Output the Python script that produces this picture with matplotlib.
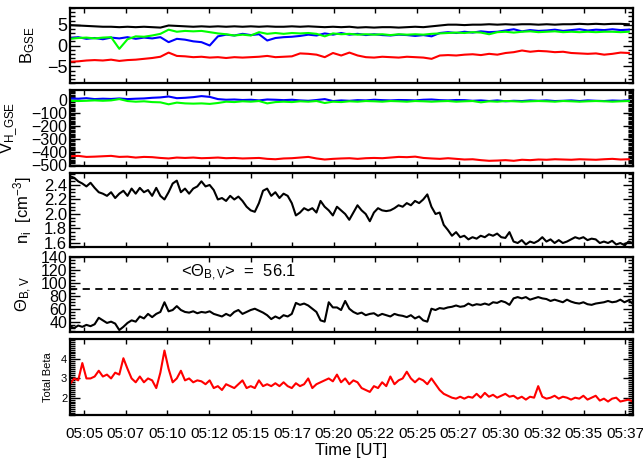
import matplotlib
matplotlib.use('Agg')
import matplotlib.pyplot as plt
from matplotlib.ticker import FixedLocator, MultipleLocator, FuncFormatter
import numpy as np

plt.rcParams['font.family'] = ['Liberation Sans', 'DejaVu Sans']
plt.rcParams['mathtext.fontset'] = 'custom'
plt.rcParams['mathtext.rm'] = 'Liberation Sans'
plt.rcParams['mathtext.it'] = 'Liberation Sans:italic'

# Time axis: minutes after 05:00 UT
T_START = 4.15
T_END = 37.97
x_ticks = [5.0 + 2.5 * k for k in range(14)]

# Magnetic field B_GSE [nT] (x red, y blue, z green, |B| black)
b_tot = [4.9, 4.8, 4.7, 4.6, 4.5, 4.5, 4.4, 4.5, 4.4, 4.5, 4.4, 4.3, 4.8, 4.7, 4.6, 4.5, 4.6, 4.5, 4.6, 4.5,
         4.6, 4.5, 4.6, 4.5, 4.6, 4.5, 4.5, 4.6, 4.5, 4.6, 4.5, 4.4, 4.5, 4.4, 4.5, 4.3, 4.4, 4.3, 4.4, 4.4,
         4.3, 4.4, 4.5, 4.4, 4.6, 4.8, 5.0, 5.0, 4.9, 5.0, 5.0, 5.1, 5.0, 5.1, 5.0, 5.1, 5.1, 5.0, 5.1, 5.0,
         5.1, 5.1, 5.2, 5.1, 5.2, 5.1, 5.2, 5.2, 5.1]
b_x = [-3.9, -3.8, -3.6, -3.5, -3.6, -3.4, -3.7, -3.5, -3.4, -3.2, -3.0, -2.7, -1.7, -2.5, -2.6, -2.8, -2.7, -2.9,
       -2.8, -3.0, -2.8, -2.9, -2.8, -2.7, -2.5, -2.8, -2.7, -2.6, -1.9, -2.0, -2.2, -2.8, -1.8, -2.4, -1.7, -2.4,
       -2.8, -2.9, -2.7, -2.8, -2.9, -2.7, -2.8, -2.9, -3.2, -2.4, -2.3, -2.4, -2.2, -2.1, -2.3, -2.0, -2.2, -1.8,
       -1.6, -1.2, -1.5, -1.3, -1.4, -1.6, -1.5, -1.8, -1.9, -2.0, -1.9, -2.2, -2.0, -1.7, -1.8]
b_y = [1.8, 2.0, 1.6, 1.8, 1.5, 1.9, 1.7, 2.0, 1.6, 1.9, 1.7, 2.0, 0.8, 1.6, 1.4, 1.0, 0.8, 0.0, 2.2, 2.6,
       2.4, 2.8, 2.5, 2.7, 1.2, 1.8, 2.0, 2.1, 2.3, 2.6, 2.4, 2.9, 2.6, 3.0, 2.6, 2.8, 2.5, 2.7, 2.5, 2.4,
       2.6, 2.5, 2.3, 2.5, 2.2, 3.0, 3.2, 3.0, 3.3, 3.1, 3.4, 3.2, 3.3, 3.6, 3.9, 3.4, 3.7, 3.5, 3.6, 3.8,
       3.5, 3.7, 3.9, 3.6, 3.8, 3.7, 3.9, 3.7, 3.8]
b_z = [1.6, 1.8, 1.9, 1.7, 1.9, 2.0, -0.8, 1.5, 2.2, 2.1, 2.4, 2.8, 3.8, 3.3, 3.5, 3.4, 3.5, 3.2, 2.9, 2.7,
       2.4, 2.6, 2.4, 3.2, 2.8, 3.0, 2.8, 3.0, 2.9, 3.0, 2.8, 2.2, 2.9, 2.7, 2.8, 2.6, 2.7, 2.6, 2.7, 2.5,
       2.7, 2.6, 2.7, 2.6, 2.8, 2.9, 3.0, 3.1, 3.0, 3.2, 3.1, 2.7, 3.2, 3.3, 3.1, 3.3, 3.4, 3.2, 3.3, 3.4,
       3.2, 3.3, 3.2, 3.3, 3.2, 3.3, 3.3, 3.2, 3.3]

# Ion velocity V_H,GSE [km/s]
v_x = [-435, -432, -440, -438, -435, -432, -440, -438, -445, -440, -442, -448, -452, -445, -448, -445, -450, -448,
       -445, -450, -448, -452, -450, -448, -455, -458, -452, -450, -445, -440, -452, -460, -455, -452, -450, -455,
       -450, -448, -450, -445, -440, -442, -438, -448, -452, -455, -450, -455, -460, -458, -465, -470, -468, -465,
       -470, -462, -465, -460, -462, -458, -460, -462, -458, -460, -462, -458, -455, -460, -458]
v_y = [10, 8, 12, 5, 8, 6, 10, 5, 8, 10, 15, 18, 25, 12, 15, 20, 28, 22, 5, 0,
       2, -2, 0, -5, 2, 0, -3, 0, -5, -8, -2, 5, -10, -5, -8, -3, -5, 0, -3, -5,
       -2, -3, -5, 0, 2, -3, -5, -2, -3, -8, -5, -10, -5, -12, -8, -10, -5, -8, -5, -10,
       -8, -5, -10, -5, -8, -10, -6, -8, -5]
v_z = [-8, -10, -8, -5, -8, -5, 5, -10, -15, -12, -18, -20, -35, -22, -28, -30, -28, -32, -25, -15,
       -18, -12, -15, -10, -28, -18, -15, -18, -12, -15, -10, -25, -15, -18, -12, -15, -10, -12, -15, -10,
       -12, -15, -10, -12, -15, -12, -10, -15, -12, -10, -20, -12, -15, -10, -12, -15, -12, -10, -12, -15,
       -10, -12, -15, -12, -10, -12, -15, -12, -10]

# Ion density n_i [cm^-3]
n_i = [2.52, 2.50, 2.45, 2.42, 2.38, 2.43, 2.36, 2.30, 2.28, 2.25, 2.30, 2.22, 2.28, 2.32, 2.25, 2.35, 2.28, 2.36,
       2.30, 2.33, 2.25, 2.36, 2.25, 2.20, 2.30, 2.42, 2.46, 2.30, 2.35, 2.28, 2.35, 2.38, 2.45, 2.38, 2.40, 2.33,
       2.20, 2.22, 2.18, 2.25, 2.20, 2.24, 2.18, 2.10, 2.05, 2.03, 2.15, 2.32, 2.35, 2.25, 2.30, 2.22, 2.28, 2.25,
       2.15, 1.98, 2.02, 2.08, 2.05, 2.08, 2.02, 2.18, 2.10, 2.05, 1.98, 2.10, 2.05, 2.00, 1.92, 2.02, 2.12, 2.05,
       2.00, 1.90, 2.02, 2.08, 2.05, 2.04, 2.05, 2.08, 2.12, 2.10, 2.15, 2.12, 2.18, 2.15, 2.20, 2.27, 2.10, 2.00,
       2.02, 1.85, 1.78, 1.70, 1.75, 1.68, 1.70, 1.65, 1.68, 1.66, 1.70, 1.68, 1.72, 1.70, 1.73, 1.68, 1.67, 1.75,
       1.62, 1.60, 1.64, 1.58, 1.62, 1.60, 1.63, 1.68, 1.62, 1.65, 1.60, 1.64, 1.60, 1.62, 1.65, 1.68, 1.66, 1.68,
       1.64, 1.66, 1.65, 1.60, 1.62, 1.60, 1.63, 1.58, 1.60, 1.57, 1.62, 1.60]

# Angle between B and V [deg]
theta_bv = [33, 30, 34, 32, 35, 33, 36, 46, 42, 38, 40, 37, 27, 32, 38, 42, 40, 48, 45, 52,
            47, 52, 55, 70, 56, 58, 64, 58, 55, 54, 56, 53, 55, 54, 56, 52, 50, 48, 52, 49,
            55, 58, 52, 55, 58, 60, 57, 54, 50, 44, 48, 45, 50, 48, 52, 69, 66, 68, 65, 60,
            55, 42, 40, 70, 62, 62, 58, 72, 60, 55, 52, 54, 50, 52, 53, 49, 52, 50, 48, 52,
            50, 49, 47, 50, 45, 48, 42, 40, 60, 58, 61, 60, 62, 63, 65, 63, 64, 68, 65, 67,
            66, 68, 66, 70, 69, 72, 70, 66, 76, 78, 76, 78, 74, 76, 78, 76, 75, 72, 74, 72,
            70, 74, 71, 69, 68, 70, 67, 66, 68, 69, 70, 72, 70, 71, 74, 70, 73, 68]
theta_mean = 56.1

# Total plasma beta
beta_tot = [2.7, 3.0, 2.9, 3.8, 3.0, 3.0, 3.1, 3.4, 3.1, 3.2, 3.0, 3.3, 3.2, 4.05, 3.5, 3.0, 2.8, 3.1, 2.8, 3.0,
            2.9, 2.5, 3.3, 4.45, 3.5, 2.8, 3.0, 3.4, 2.9, 3.0, 2.8, 2.9, 2.85, 2.7, 2.9, 2.5, 2.6, 2.4, 2.7, 2.6,
            2.5, 2.7, 2.9, 2.5, 2.6, 2.5, 2.9, 2.6, 2.7, 2.6, 2.75, 2.6, 2.8, 2.6, 2.5, 2.75, 2.6, 2.7, 3.0, 2.5,
            2.7, 2.8, 2.9, 3.0, 2.85, 3.2, 2.8, 3.0, 2.7, 2.9, 2.8, 2.5, 2.4, 2.3, 2.6, 2.5, 2.8, 2.6, 3.1, 2.7,
            2.9, 3.0, 3.35, 3.0, 2.8, 3.0, 2.9, 2.7, 3.0, 2.7, 2.4, 2.2, 2.1, 2.0, 1.95, 2.05, 1.95, 2.05, 2.0, 2.2,
            2.0, 2.25, 2.05, 2.15, 2.0, 2.1, 2.2, 2.05, 2.1, 1.95, 2.05, 1.9, 2.05, 2.0, 2.6, 2.05, 1.95, 2.0, 2.1,
            1.95, 2.05, 2.0, 1.9, 2.0, 1.95, 2.1, 1.9, 2.0, 2.1, 1.85, 1.95, 1.8, 1.95, 2.0, 1.8, 1.85, 1.9, 1.8]


def time_axis(values, t_end):
    return np.linspace(T_START, t_end, len(values))


def setup_panel(ax, ylim, yticks, yminor, ylabel, label_x, label_size=12, tick_size=12, show_x=False):
    """Configure one IDL-like panel: box, inward ticks on all sides."""
    ax.set_xlim(T_START, T_END)
    ax.set_ylim(ylim)
    ax.xaxis.set_major_locator(FixedLocator(x_ticks))
    ax.yaxis.set_major_locator(FixedLocator(yticks))
    ax.yaxis.set_minor_locator(MultipleLocator(yminor))
    ax.tick_params(axis='both', which='both', direction='in', top=True, right=True, width=1.0, color='k')
    ax.tick_params(axis='x', which='major', length=3.5)
    ax.tick_params(axis='y', which='major', length=7, labelsize=tick_size, pad=2)
    ax.tick_params(axis='y', which='minor', length=3.5)
    for spine in ax.spines.values():
        spine.set_linewidth(1.6)
    # the label coordinate is the right edge of the rotated text
    ax.set_ylabel(ylabel, fontsize=label_size)
    ax.yaxis.set_label_coords(label_x, 0.5)
    if show_x:
        ax.xaxis.set_major_formatter(FuncFormatter(lambda v, pos: '05:%02d' % int(v)))
        ax.tick_params(axis='x', labelsize=11, pad=9)
        ax.set_xlabel('Time [UT]', fontsize=12, labelpad=1)
    else:
        ax.set_xticklabels([])


fig = plt.figure(figsize=(6.43, 4.62), dpi=100)

left = 70 / 643
width = 563 / 643
panel_px = [(8, 83), (90, 166), (173, 247), (257, 332), (339, 415)]
axes = []
for top, bottom in panel_px:
    axes.append(fig.add_axes([left, 1 - bottom / 462, width, (bottom - top) / 462]))
ax1, ax2, ax3, ax4, ax5 = axes

t_coarse_end = 37.72
t_fine_end = 37.95
lw = 1.5
green = '#00ff00'

# Panel 1: magnetic field
t_b = time_axis(b_tot, t_coarse_end)
ax1.plot(t_b, b_tot, color='black', lw=lw)
ax1.plot(t_b, b_y, color='blue', lw=lw)
ax1.plot(t_b, b_z, color=green, lw=lw)
ax1.plot(t_b, b_x, color='red', lw=lw)
setup_panel(ax1, (-9, 9), [-5, 0, 5], 1, r'B$_{\mathrm{GSE}}$', -0.058, tick_size=13)

# Panel 2: ion velocity
t_v = time_axis(v_x, t_coarse_end)
ax2.plot(t_v, v_y, color='blue', lw=lw)
ax2.plot(t_v, v_z, color=green, lw=lw)
ax2.plot(t_v, v_x, color='red', lw=lw)
setup_panel(ax2, (-510, 75), [-500, -400, -300, -200, -100, 0], 10, r'V$_{\mathrm{H\_GSE}}$', -0.088,
            tick_size=11.5)

# Panel 3: ion density
ax3.plot(time_axis(n_i, t_fine_end), n_i, color='black', lw=lw)
setup_panel(ax3, (1.545, 2.565), [1.6, 1.8, 2.0, 2.2, 2.4], 0.05, r'n$_{\mathrm{i}}$  [cm$^{-3}$]', -0.064)
ax3.yaxis.set_major_formatter(FuncFormatter(lambda v, pos: '%.1f' % v))

# Panel 4: angle between B and V
ax4.plot(time_axis(theta_bv, t_fine_end), theta_bv, color='black', lw=lw)
ax4.axhline(90, color='black', lw=1.3, linestyle=(0, (4, 3)))
ax4.text(10.8, 116, r'<$\Theta_{\mathrm{B,V}}$>  =  ' + '%.1f' % theta_mean, fontsize=12, va='center')
setup_panel(ax4, (24, 140), [40, 60, 80, 100, 120, 140], 5, r'$\Theta_{\mathrm{B,V}}$', -0.064,
            tick_size=11.5)

# Panel 5: total beta
ax5.plot(time_axis(beta_tot, t_fine_end), beta_tot, color='red', lw=lw)
setup_panel(ax5, (1.1, 5.05), [2, 3, 4], 0.1, 'Total Beta', -0.03, label_size=8, tick_size=8, show_x=True)

fig.savefig('out.png', dpi=100)
plt.close(fig)
